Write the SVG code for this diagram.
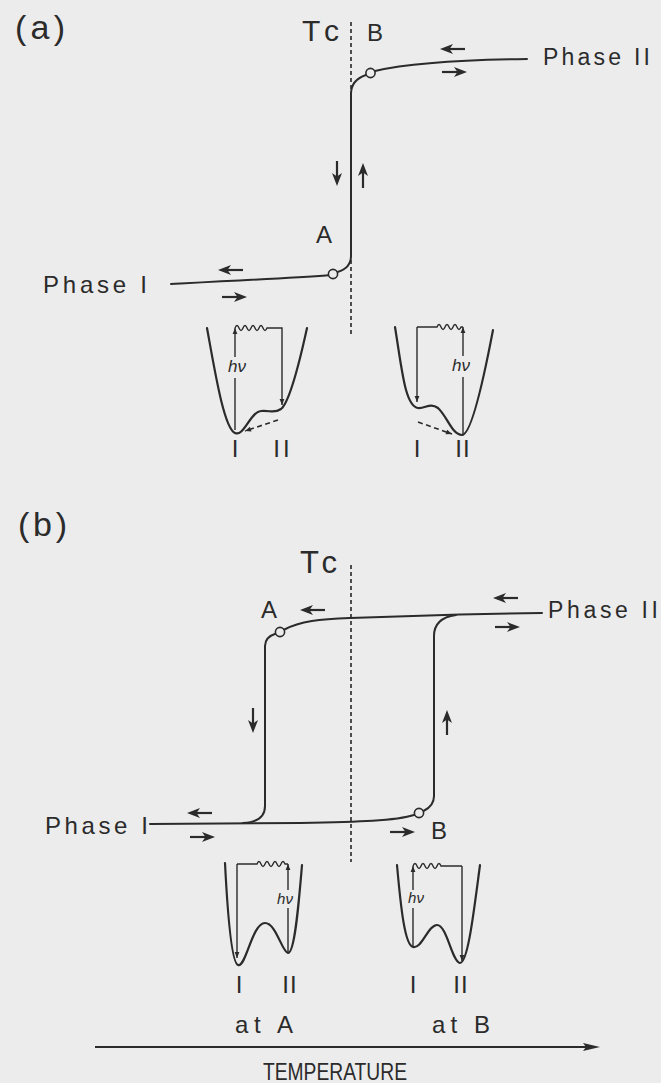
<svg xmlns="http://www.w3.org/2000/svg" xmlns:xlink="http://www.w3.org/1999/xlink" width="661" height="1083" viewBox="0 0 661 1083">
<style>
.t{font-family:"Liberation Sans",Arial,Helvetica,sans-serif;fill:#2b2b2b}
.c{fill:none;stroke:#2b2b2b;stroke-width:2;stroke-linecap:round;stroke-linejoin:round}
.w{fill:none;stroke:#2b2b2b;stroke-width:2.2;stroke-linecap:round}
.b{fill:none;stroke:#2b2b2b;stroke-width:1.4}
.d{fill:none;stroke:#2b2b2b;stroke-width:1.6;stroke-dasharray:5 3.5}
.tc{fill:none;stroke:#333;stroke-width:1.7;stroke-dasharray:4 3}
.pt{fill:#ececec;stroke:#2b2b2b;stroke-width:1.6}
.hv{font-family:"Liberation Sans",Arial,sans-serif;font-style:italic;fill:#2b2b2b}
</style>
<defs>
<marker id="mh" viewBox="0 0 10 10" refX="10" refY="5" markerWidth="7" markerHeight="6" markerUnits="userSpaceOnUse" orient="auto"><path d="M0,1 L10,5 L0,9 Z" fill="#2b2b2b"/></marker>
<g id="arw"><path d="M-25,0 L-6,0" stroke="#2b2b2b" stroke-width="2.2"/><path d="M0,0 L-13,-5 L-9.5,0 L-13,5 Z" fill="#2b2b2b"/></g>
</defs>
<rect x="0" y="0" width="661" height="1083" fill="#ececec"/>

<!-- Panel (a) -->
<g id="panel-a">
<text class="t" x="15" y="39" font-size="34" textLength="50">(a)</text>
<g id="a-tc"><text class="t" x="302" y="41" font-size="30" textLength="37">Tc</text><line class="tc" x1="351" y1="22" x2="351" y2="336"/></g>
<g id="a-phase1"><text class="t" x="43" y="293" font-size="24" textLength="104">Phase I</text></g>
<g id="a-phase2"><text class="t" x="543" y="65" font-size="23" textLength="107">Phase II</text></g>
<g id="a-pointA"><text class="t" x="316" y="243" font-size="24">A</text></g>
<g id="a-pointB"><text class="t" x="367" y="41" font-size="24">B</text></g>
<g id="a-connectors">
<path class="c" d="M171,284 C230,281 290,278 328.8,275.2"/>
<path class="c" d="M337.5,272 Q351,268 351,256 L351,94 Q351,80 366,75"/>
<path class="c" d="M375,71 C405,64 450,60 527,59"/>
<use xlink:href="#arw" transform="translate(218,270) rotate(180)"/>
<use xlink:href="#arw" transform="translate(247,297)"/>
<use xlink:href="#arw" transform="translate(440,49) rotate(180)"/>
<use xlink:href="#arw" transform="translate(467,72)"/>
<use xlink:href="#arw" transform="translate(337,186) rotate(90)"/>
<use xlink:href="#arw" transform="translate(363,163) rotate(-90)"/>
</g>
<circle class="pt" cx="333" cy="274" r="4.6"/>
<circle class="pt" cx="370.5" cy="73" r="4.6"/>
<g id="a-well1">
<path class="w" d="M207,328 C215,372 224,428 235,433 C244,437 250,412 261,411 C270,410 274,414 281,409 C290,402 300,360 307,328"/>
<line class="b" x1="235" y1="430" x2="235" y2="378"/>
<line class="b" x1="235" y1="357" x2="235" y2="328" marker-end="url(#mh)"/>
<path class="b" d="M235,328 q2,-5 4,0 t4,0 t4,0 t4,0 t4,0 t4,0 t4,0 t4,0 L282,328 L282,405" marker-end="url(#mh)"/>
<text class="hv" x="237" y="372" font-size="17" text-anchor="middle">hν</text>
<line class="d" x1="278" y1="420" x2="245" y2="431" marker-end="url(#mh)"/>
<text class="t" x="235" y="457" font-size="24" text-anchor="middle">I</text>
<text class="t" x="283" y="457" font-size="24" text-anchor="middle" letter-spacing="3">II</text>
</g>
<g id="a-well2">
<path class="w" d="M395,327 C402,370 405,406 418,408 C425,409 430,402 438,408 C447,416 452,435 462,435 C472,435 485,372 493,330"/>
<path class="b" d="M417,327 L437,327 q2,-5 4,0 t4,0 t4,0 t4,0 t4,0 t4,0 L463,327"/>
<line class="b" x1="417" y1="327" x2="417" y2="402" marker-end="url(#mh)"/>
<line class="b" x1="463" y1="435" x2="463" y2="377"/>
<line class="b" x1="463" y1="356" x2="463" y2="327" marker-end="url(#mh)"/>
<text class="hv" x="461" y="371" font-size="17" text-anchor="middle">hν</text>
<line class="d" x1="418" y1="422" x2="452" y2="434" marker-end="url(#mh)"/>
<text class="t" x="417" y="457" font-size="24" text-anchor="middle">I</text>
<text class="t" x="463" y="457" font-size="24" text-anchor="middle" letter-spacing="1">II</text>
</g>
</g>

<!-- Panel (b) -->
<g id="panel-b">
<text class="t" x="18" y="536" font-size="34" textLength="49">(b)</text>
<g id="b-tc"><text class="t" x="300" y="573" font-size="31" textLength="37">Tc</text><line class="tc" x1="351" y1="565" x2="351" y2="862"/></g>
<g id="b-phase1"><text class="t" x="45" y="834" font-size="24" textLength="103">Phase I</text></g>
<g id="b-phase2"><text class="t" x="548" y="618" font-size="23" textLength="110">Phase II</text></g>
<g id="b-pointA"><text class="t" x="261" y="618" font-size="24">A</text></g>
<g id="b-pointB"><text class="t" x="431" y="839" font-size="24">B</text></g>
<g id="b-connectors">
<path class="c" d="M284.5,629.5 C300,621 320,619 350,618 L460,614.5 L542,613"/>
<path class="c" d="M276,633.5 Q265,637 265,646 L265,806 Q265,822 243,823"/>
<path class="c" d="M434,796 L434,636 Q434,618 456,615"/>
<path class="c" d="M150,824 L300,823 C360,822 395,821 414.8,814.8"/>
<path class="c" d="M423.5,811 Q434,806 434,796"/>
<use xlink:href="#arw" transform="translate(300,610) rotate(180)"/>
<use xlink:href="#arw" transform="translate(493,598) rotate(180)"/>
<use xlink:href="#arw" transform="translate(520,627)"/>
<use xlink:href="#arw" transform="translate(253,733) rotate(90)"/>
<use xlink:href="#arw" transform="translate(447,710) rotate(-90)"/>
<use xlink:href="#arw" transform="translate(187,813) rotate(180)"/>
<use xlink:href="#arw" transform="translate(215,837)"/>
<use xlink:href="#arw" transform="translate(415,832)"/>
</g>
<circle class="pt" cx="280" cy="632" r="4.6"/>
<circle class="pt" cx="419" cy="813" r="4.6"/>
<g id="b-wellA">
<path class="w" d="M225,863 C228,922 232,963 238,965 C246,968 252,923 265,923 C276,923 282,952 288,953 C295,953 299,900 302,865"/>
<path class="b" d="M237,864 L257,864 q2,-5 4,0 t4,0 t4,0 t4,0 t4,0 t4,0 t4,0 L288,864"/>
<line class="b" x1="237" y1="864" x2="237" y2="958" marker-end="url(#mh)"/>
<line class="b" x1="288" y1="953" x2="288" y2="908"/>
<line class="b" x1="288" y1="890" x2="288" y2="864" marker-end="url(#mh)"/>
<text class="hv" x="285" y="904" font-size="15" text-anchor="middle">hν</text>
<text class="t" x="239" y="993" font-size="24" text-anchor="middle">I</text>
<text class="t" x="290" y="993" font-size="24" text-anchor="middle" letter-spacing="1">II</text>
<text class="t" x="235" y="1033" font-size="24" textLength="58">at A</text>
</g>
<g id="b-wellB">
<path class="w" d="M397,865 C401,910 405,945 413,947 C422,949 428,925 437,925 C447,925 452,962 460,963 C468,963 474,910 480,865"/>
<path class="b" d="M413,866 q2,-5 4,0 t4,0 t4,0 t4,0 t4,0 t4,0 t4,0 L462,866"/>
<line class="b" x1="413" y1="947" x2="413" y2="908"/>
<line class="b" x1="413" y1="890" x2="413" y2="866" marker-end="url(#mh)"/>
<line class="b" x1="462" y1="866" x2="462" y2="961" marker-end="url(#mh)"/>
<text class="hv" x="416" y="903" font-size="15" text-anchor="middle">hν</text>
<text class="t" x="413" y="993" font-size="24" text-anchor="middle">I</text>
<text class="t" x="461" y="993" font-size="24" text-anchor="middle" letter-spacing="1">II</text>
<text class="t" x="432" y="1033" font-size="24" textLength="58">at B</text>
</g>
</g>

<g id="axis">
<line x1="95" y1="1047" x2="590" y2="1047" stroke="#2b2b2b" stroke-width="1.9"/>
<path d="M600,1047 L583,1043 L586,1047 L583,1051 Z" fill="#2b2b2b"/>
<text class="t" x="263" y="1080" font-size="23" textLength="144" lengthAdjust="spacingAndGlyphs">TEMPERATURE</text>
</g>
</svg>
